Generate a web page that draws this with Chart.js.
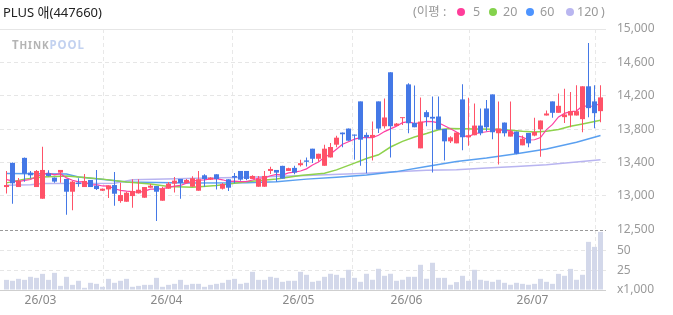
<!DOCTYPE html>
<html>
<head>
<meta charset="utf-8">
<script src="https://cdn.jsdelivr.net/npm/chart.js@4"></script>
<style>
body { margin: 0; background: #fff; }
#wrap { position: relative; width: 673px; height: 315px; overflow: hidden; font-family: 'Noto Sans', 'Noto Sans CJK KR', sans-serif; }
#wrap canvas { position: absolute; left: 0; top: 0; }
.txt { position: absolute; white-space: nowrap; line-height: 16px; }
.title { left: 3px; top: 4px; font-size: 13px; color: #222; }
.lg { top: 4px; font-size: 12.5px; color: #9a9a9a; }
.dot { position: absolute; top: 8px; width: 8px; height: 8px; border-radius: 50%; }
.mark { left: 12px; top: 37px; font-size: 11.5px; font-weight: bold; letter-spacing: 0.9px; }
</style>
</head>
<body>
<div id="wrap">
  <canvas id="priceChart" width="673" height="315"></canvas>
  <canvas id="volChart" width="673" height="315"></canvas>
  <div class="txt title">PLUS 애(447660)</div>
  <div class="txt lg" style="left:413px">(이평 :</div>
  <div class="dot" style="left:457px;background:#ff3d9a"></div>
  <div class="txt lg" style="left:473px">5</div>
  <div class="dot" style="left:489px;background:#84d24c"></div>
  <div class="txt lg" style="left:503px">20</div>
  <div class="dot" style="left:526px;background:#4d94ff"></div>
  <div class="txt lg" style="left:540px">60</div>
  <div class="dot" style="left:566px;background:#b9b6f0"></div>
  <div class="txt lg" style="left:577px">120</div>
  <div class="txt lg" style="left:601px">)</div>
  <div class="txt mark"><span style="color:#b4b4b4">T<span style="font-size:10px">HINK</span></span><span style="color:#c3d2f0">POOL</span></div>
</div>
<script>
// daily candles, oldest first
const opens = [13105,13395,13105,13455,13278,13105,12965,13270,13218,13278,13202,13049,13158,13105,13190,13121,13061,13077,13129,12937,12929,12997,13029,12977,13097,
  13117,12941,13085,13146,13202,13154,13109,13061,13246,13194,13258,13085,13198,13238,13298,13298,13202,13109,13109,13298,13310,13359,13298,13335,13367,
  13424,13565,13444,13360,13460,13613,13758,13806,13734,14132,13730,13701,14132,13834,14481,13838,13931,14336,13874,13569,14003,13947,13951,13802,13653,
  13629,14156,13702,13726,13842,14047,14216,13750,13878,13710,13770,13605,13754,13722,13798,13963,14132,13995,13943,13963,13963,13919,14313,14132,14015];
const highs = [13298,13400,13214,13460,13298,13310,13588,13306,13218,13310,13202,13178,13210,13262,13190,13310,13088,13125,13286,13158,13049,13198,13198,13105,13141,
  13117,13109,13166,13226,13202,13202,13234,13298,13258,13222,13258,13154,13198,13274,13298,13298,13246,13238,13298,13347,13310,13359,13335,13359,13431,
  13460,13565,13504,13613,13633,13721,13758,13806,13734,14132,13758,13890,14132,14168,14481,13874,13939,14349,14324,14180,14027,14192,14192,13802,13713,
  13758,14337,14176,14108,14047,14148,14216,14132,13878,14132,13770,13722,13754,13935,13903,14023,14132,14228,14284,14244,14325,14313,14831,14325,14325];
const lows = [13029,12904,13105,13170,13210,13105,12965,13230,13158,13158,12772,12828,13109,13105,13105,13069,13058,12973,12880,12916,12929,12856,13029,12977,13097,
  12699,12941,13085,13041,12965,13154,13109,13061,13109,13190,13077,13077,13057,13150,13182,13186,13202,13109,13109,13262,13170,13206,13298,13258,13351,
  13352,13392,13412,13360,13460,13581,13581,13661,13432,13360,13271,13424,13754,13806,13460,13838,13850,13750,13822,13569,13834,13279,13794,13424,13633,
  13629,13545,13601,13726,13726,13774,13677,13376,13710,13710,13497,13605,13581,13714,13468,13963,13935,13995,13874,13822,13963,13762,13943,13810,13882];
const closes = [13129,13150,13182,13266,13246,13298,13310,13238,13170,13310,13049,13170,13142,13178,13105,13081,13085,13125,13025,13009,13037,13057,13073,13105,13121,
  13049,13089,13146,13182,13154,13190,13210,13198,13202,13218,13202,13142,13097,13218,13194,13202,13238,13202,13238,13322,13278,13206,13331,13278,13391,
  13408,13444,13504,13565,13585,13697,13738,13661,13721,13673,13701,13730,13806,13939,13834,13866,13939,13870,13822,13890,13943,13926,13794,13653,13701,
  13758,13702,13726,13842,13750,13822,13762,13806,13750,13774,13505,13685,13629,13766,13903,13987,13995,14079,13975,14015,14015,14313,14051,13991,14180];
// volume in thousands of shares
const volumes = [13.0,11.8,14.3,13.0,16.9,15.6,20.7,13.0,22.0,5.3,16.9,6.6,11.8,2.8,9.2,7.9,4.1,14.3,9.2,11.8,14.3,4.1,5.3,6.6,6.6,
  15.6,4.1,6.6,7.9,13.0,6.6,7.9,7.9,4.1,6.6,7.9,9.2,13.0,14.3,7.9,9.2,23.3,13.0,13.0,16.9,15.6,10.5,11.8,11.8,23.3,
  19.5,10.5,11.8,16.9,20.8,19.5,15.6,25.9,15.6,10.5,20.8,13.1,27.2,18.2,20.8,11.8,13.1,16.9,16.9,32.3,14.4,34.9,15.6,15.6,6.7,
  10.1,18.2,11.8,25.9,13.1,11.8,10.5,13.1,9.2,6.7,9.2,7.9,6.7,7.9,14.3,10.5,7.9,20.7,18.2,27.1,13.1,19.5,61.7,55.3,74.5];

// moving averages
const ma5 = [13195,13180,13170,13185,13195,13228,13260,13272,13252,13265,13215,13187,13168,13170,13129,13135,13118,13115,13084,13065,13056,13051,13040,13056,13079,
  13081,13087,13102,13117,13124,13152,13176,13187,13191,13204,13206,13192,13172,13175,13171,13171,13190,13211,13215,13240,13256,13249,13275,13283,13297,
  13323,13370,13405,13462,13501,13559,13618,13649,13680,13698,13699,13697,13726,13770,13802,13835,13877,13890,13866,13877,13893,13890,13875,13841,13803,
  13766,13722,13708,13746,13756,13768,13780,13796,13778,13783,13719,13704,13669,13672,13698,13794,13856,13946,13988,14010,14016,14079,14074,14077,14110];
const ma20X = [0,3,6,10,13,16,20,24,27,31,35,40,45,49,53,55,58,60,62,64,66,68,70,72,74,78,82,86,88,90,92,94,96,99];
const ma20 = [13155,13200,13225,13238,13220,13200,13165,13142,13112,13104,13125,13168,13202,13243,13271,13311,13392,13448,13492,13585,13653,13705,13746,13792,13806,13802,13798,13774,13766,13774,13794,13834,13862,13907];
const ma60X = [0,10,12,17,20,30,40,45,50,55,60,65,70,75,80,85,90,95,99];
const ma60 = [13266,13262,13225,13190,13165,13155,13158,13170,13200,13222,13250,13290,13350,13410,13452,13505,13561,13641,13722];
const ma120X = [0,4,6,18,21,30,40,50,60,70,75,80,85,90,95,99];
const ma120 = [13128,13132,13148,13152,13192,13208,13222,13243,13271,13307,13312,13332,13352,13372,13404,13432];

const monthPos = [5.67, 26.67, 48.67, 66.67, 87.67];
const monthLabels = ['26/03', '26/04', '26/05', '26/06', '26/07'];
const priceTicks = [13000, 13400, 13800, 14200, 14600, 15000];
const volTicks = [0, 25, 50, 76.9];
const volTickText = ['x1,000', '25', '50', '12,500'];

const FONT = "'Noto Sans', 'Noto Sans CJK KR', sans-serif";
const RED = '#ff5268';
const BLUE = '#4478e6';
const xMin = -1.0833, xMax = 99.9167;

const candleColors = closes.map((c, i) => c >= opens[i] ? RED : BLUE);

function toPts(xs, ys) {
    return xs.map((x, i) => ({ x: x, y: ys[i] }));
}

function maLine(xs, ys, color, width, order) {
    return {
        type: 'line',
        data: toPts(xs, ys),
        borderColor: color,
        borderWidth: width,
        pointRadius: 0,
        tension: 0,
        fill: false,
        order: order
    };
}

const idx = closes.map((c, i) => i);

function xAxis(showLabels) {
    return {
        type: 'linear',
        min: xMin,
        max: xMax,
        offset: false,
        afterBuildTicks: (s) => { s.ticks = monthPos.map(v => ({ value: v })); },
        afterFit: (s) => { s.height = showLabels ? 25 : 0; },
        ticks: {
            display: showLabels,
            autoSkip: false,
            maxRotation: 0,
            padding: 3,
            color: '#888',
            font: { family: FONT, size: 12 },
            callback: (v, i) => monthLabels[i]
        },
        grid: { color: '#e8e8e8', drawTicks: false },
        border: { display: false, dash: [4, 3] }
    };
}

new Chart(document.getElementById('priceChart'), {
    type: 'bar',
    data: {
        datasets: [
            {
                data: idx.map(i => ({ x: i, y: [lows[i], highs[i]] })),
                backgroundColor: candleColors,
                barThickness: 1,
                grouped: false,
                inflateAmount: 0,
                borderWidth: 0,
                order: 1
            },
            {
                data: idx.map(i => ({ x: i, y: [opens[i], closes[i]] })),
                backgroundColor: candleColors,
                barThickness: 5,
                grouped: false,
                inflateAmount: 0,
                borderWidth: 0,
                minBarLength: 1,
                order: 0
            },
            maLine(idx, ma5, '#ff3fa4', 1.2, 2),
            maLine(ma20X, ma20, '#8ed24c', 1.5, 3),
            maLine(ma60X, ma60, '#5aa0f0', 1.5, 4),
            maLine(ma120X, ma120, '#b8b4f0', 1.5, 5)
        ]
    },
    options: {
        responsive: false,
        animation: false,
        events: [],
        layout: { padding: { top: 29, bottom: 85, left: 0, right: 0 } },
        plugins: { legend: { display: false }, tooltip: { enabled: false } },
        scales: {
            x: xAxis(false),
            y: {
                position: 'right',
                min: 12590,
                max: 15000,
                afterBuildTicks: (s) => { s.ticks = priceTicks.map(v => ({ value: v })); },
                afterFit: (s) => { s.width = 67; },
                ticks: {
                    padding: 11,
                    color: '#9a9a9a',
                    font: { family: FONT, size: 12 },
                    callback: (v) => v.toLocaleString('en-US')
                },
                grid: { color: '#e6e6e6', drawTicks: false },
                border: { display: false, dash: (c) => (c.tick && c.tick.value === 15000) ? [] : [4, 3] }
            }
        }
    }
});

new Chart(document.getElementById('volChart'), {
    type: 'bar',
    data: {
        datasets: [{
            data: idx.map(i => ({ x: i, y: volumes[i] })),
            backgroundColor: '#d3d8ea',
            barThickness: 5,
            inflateAmount: 0,
            borderWidth: 0
        }]
    },
    options: {
        responsive: false,
        animation: false,
        events: [],
        layout: { padding: { top: 230, bottom: 0, left: 0, right: 0 } },
        plugins: { legend: { display: false }, tooltip: { enabled: false } },
        scales: {
            x: xAxis(true),
            y: {
                position: 'right',
                min: 0,
                max: volTicks[volTicks.length - 1],
                afterBuildTicks: (s) => { s.ticks = volTicks.map(v => ({ value: v })); },
                afterFit: (s) => { s.width = 67; },
                ticks: {
                    padding: 11,
                    color: '#9a9a9a',
                    font: { family: FONT, size: 12 },
                    callback: (v, i) => volTickText[i]
                },
                grid: {
                    drawTicks: false,
                    color: (c) => {
                        if (!c.tick) return '#e6e6e6';
                        if (c.tick.value === 0) return '#cfcfcf';
                        if (c.index === volTicks.length - 1) return '#999999';
                        return '#e6e6e6';
                    }
                },
                border: {
                    display: false,
                    dash: (c) => {
                        if (!c.tick) return [4, 3];
                        if (c.tick.value === 0) return [];
                        if (c.index === volTicks.length - 1) return [3, 2];
                        return [4, 3];
                    }
                }
            }
        }
    }
});
</script>
</body>
</html>
